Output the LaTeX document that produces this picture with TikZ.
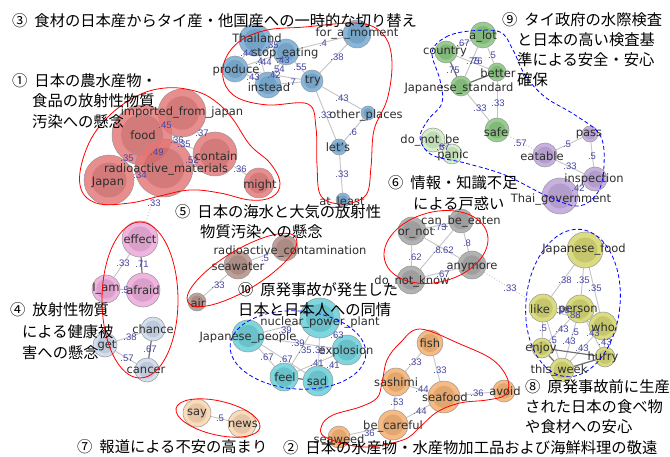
\documentclass[tikz,border=0pt]{standalone}
\usepackage{fontspec}
\setmainfont{DejaVu Sans}
\newfontfamily\jpf{Noto Sans CJK JP}
\newfontfamily\elf{Liberation Sans}
\usetikzlibrary{backgrounds}
\definecolor{cRed}{RGB}{228,118,118}
\definecolor{cBlue}{RGB}{112,168,212}
\definecolor{cGreen}{RGB}{128,196,118}
\definecolor{cLGreen}{RGB}{206,236,192}
\definecolor{cPurple}{RGB}{188,160,218}
\definecolor{cGray}{RGB}{162,162,162}
\definecolor{cYellow}{RGB}{212,212,100}
\definecolor{cCyan}{RGB}{98,206,216}
\definecolor{cPink}{RGB}{236,164,216}
\definecolor{cLBlue}{RGB}{202,216,236}
\definecolor{cBrown}{RGB}{178,140,130}
\definecolor{cOrange}{RGB}{246,172,104}
\definecolor{cLOrange}{RGB}{250,212,172}
\definecolor{bordc}{RGB}{150,150,150}
\definecolor{txtc}{RGB}{45,45,45}
\definecolor{elc}{RGB}{70,70,165}
\definecolor{edgc}{RGB}{196,196,196}
\definecolor{sedgc}{RGB}{110,110,110}
\begin{document}
\begin{tikzpicture}[x=1pt,y=-1pt,
  vn/.style n args={2}{circle, draw=bordc, line width=.5pt, fill=#2, fill opacity=.82,
     minimum size=#1*2pt, inner sep=0pt,
     path picture={\fill[#2!78!black, fill opacity=.38] (path picture bounding box.center) circle[radius=#1*0.7pt];}},
  lab/.style={font=\fontsize{11.5}{13}\selectfont, text=txtc, inner sep=0pt},
  elab/.style={font=\elf\fontsize{9.5}{11}\selectfont, text=elc, inner sep=0pt},
  ttl/.style={font=\jpf\fontsize{15.3}{18}\selectfont, anchor=west, inner sep=0pt, text=black},
  edge/.style={draw=edgc, line width=.9pt},
  sedge/.style={draw=sedgc, line width=1.2pt},
  dedge/.style={draw=edgc, line width=.9pt, dotted},
  redline/.style={draw=red, line width=.8pt},
  blueline/.style={draw=blue, line width=.8pt, dash pattern=on 4pt off 2.5pt}]
\useasboundingbox (0,0) rectangle (670,457);

% ---- circles ----
\foreach \n/\x/\y/\rad/\cc in {
  imp/182/113/24/cRed, food/142/135/30/cRed, radm/164/168/29/cRed, japan/109/180/25/cRed,
  cont/215/154/22/cRed, might/259/183/15/cRed,
  thai/255/40/16/cBlue, stop/286/52/13/cBlue, prod/235/69/13/cBlue, inst/268/85/13/cBlue,
  try/312/81/11/cBlue, moment/357/34/14/cBlue, other/368/113/7/cBlue, lets/339/147/8/cBlue,
  atleast/343/200/7/cBlue,
  alot/483/35/13/cGreen, country/446/52/11/cGreen, better/497/72/9/cGreen, jstd/461/86/10/cGreen,
  safe/497/130/12/cGreen, donot/433/140/12/cLGreen, panic/452/154/10/cLGreen,
  eatable/545/155/12/cPurple, pass/590/134/8/cPurple, insp/595/179/12/cPurple, thaigov/560/196/18/cPurple,
  canbe/461/221/12/cGray, ornot/412/231/14/cGray, anymore/472/265/14/cGray, dnk/411/280/14/cGray,
  jfood/585/250/18/cYellow, like/543/308/14/cYellow, person/580/309/14/cYellow, who/603/326/14/cYellow,
  enjoy/542/348/10/cYellow, hurry/605/357/10/cYellow, week/562/370/12/cYellow,
  npp/320/318/20/cCyan, jpeople/248/336/16/cCyan, expl/347/350/15/cCyan, feel/284/377/14/cCyan,
  sad/318/381/15/cCyan,
  effect/140/239/18/cPink, iam/106/289/14/cPink, afraid/143/290/17/cPink,
  chance/153/329/12/cLBlue, get/105/345/12/cLBlue, cancer/147/370/12/cLBlue,
  air/197/302/9/cBrown, seawater/238/265/14/cBrown, radcont/285/248/13/cBrown,
  fish/430/343/13/cOrange, sashimi/396/382/14/cOrange, seafood/444/397/16/cOrange,
  avoid/504/391/11/cOrange, careful/393/425/15/cOrange, seaweed/339/437/11/cOrange,
  say/197/413/14/cLOrange, news/242/424/14/cLOrange}
  \node[vn={\rad}{\cc}] (\n) at (\x,\y) {};

% ---- edges ----
\begin{scope}[on background layer]
\fill[white] (0,0) rectangle (670,457);
\foreach \a/\b in {imp/food, imp/cont, food/cont, imp/radm, food/radm, food/japan, radm/japan,
  radm/cont, cont/might,
  thai/stop, thai/prod, thai/inst, prod/stop, prod/inst, stop/inst, stop/try, inst/try, try/moment,
  stop/moment, try/other, try/lets, other/lets, lets/atleast, prod/try,
  country/alot, alot/better, alot/jstd, country/better, jstd/safe, better/safe, donot/panic,
  eatable/pass, pass/insp, eatable/insp, insp/thaigov,
  ornot/canbe, canbe/anymore, ornot/dnk, ornot/anymore, canbe/dnk, dnk/anymore,
  jfood/like, jfood/person, jfood/who, like/person, like/who, like/enjoy, like/week, person/week,
  person/hurry, person/enjoy, who/week, who/hurry,
  jpeople/npp, npp/expl, jpeople/expl, jpeople/sad, npp/sad, feel/expl, sad/expl, jpeople/feel, npp/feel,
  effect/iam, iam/afraid, get/chance, get/cancer,
  air/seawater, seawater/radcont,
  fish/sashimi, fish/seafood, sashimi/seafood, seafood/avoid, sashimi/careful, careful/seafood,
  careful/seaweed, say/news}
  \draw[edge] (\a) -- (\b);
\foreach \a/\b in {country/jstd, jstd/better, enjoy/hurry, enjoy/week, week/hurry, feel/sad,
  effect/afraid, chance/cancer}
  \draw[sedge] (\a) -- (\b);
\foreach \a/\b in {safe/eatable, anymore/like, radm/effect}
  \draw[dedge] (\a) -- (\b);
\end{scope}

% ---- node labels ----
\foreach \n/\x/\y/\t in {
  imp/182/112/imported\_from\_japan, food/143/135/food, radm/166/169/radioactive\_materials,
  japan/108/183/Japan, cont/216/156/contain, might/260/185/might,
  thai/257/38/Thailand, stop/285/53/stop\_eating, prod/236/70/produce, inst/269/87/instead,
  try/313/81/try, moment/357/33/for\_a\_moment, other/366/115/other\_places, lets/338/147/let's,
  atleast/342/202/at\_least,
  alot/483/36/a\_lot, country/445/52/country, better/498/73/better, jstd/459/88/Japanese\_standard,
  safe/496/132/safe, donot/430/140/do\_not\_be, panic/453/155/panic,
  eatable/542/156/eatable, pass/589/134/pass, insp/594/179/inspection, thaigov/561/199/Thai\_government,
  canbe/461/221/can\_be\_eaten, ornot/416/233/or\_not, anymore/472/267/anymore, dnk/412/281/do\_not\_know,
  jfood/584/249/Japanese\_food, like/540/309/like, person/578/310/person, who/603/327/who,
  enjoy/541/348/enjoy, hurry/603/357/hurry, week/559/370/this\_week,
  npp/320/322/nuclear\_power\_plant, jpeople/248/337/Japanese\_people, expl/346/351/explosion,
  feel/285/377/feel, sad/317/381/sad,
  effect/140/239/effect, iam/106/289/I\_am, afraid/143/290/afraid,
  chance/153/329/chance, get/107/346/get, cancer/146/370/cancer,
  air/198/303/air, seawater/238/267/seawater, radcont/290/251/radioactive\_contamination,
  fish/430/343/fish, sashimi/396/382/sashimi, seafood/445/397/seafood, avoid/505/391/avoid,
  careful/393/426/be\_careful, seaweed/339/439/seaweed,
  say/197/413/say, news/243/424/news}
  \node[lab] (t-\n) at (\x,\y) {\t};

% ---- edge labels ----
\foreach \n/\x/\y/\t in {
  1/165/125/.45, 2/202/133/.37, 3/177/140/.36, 4/184/144/.35, 5/157/152/.49, 6/127/158/.35,
  7/192/160/.52, 8/140/175/.34, 9/240/169/.36, 10/154/203/.33,
  11/272/45/.35, 12/247/53/.44, 13/259/61/.4, 14/265/62/.44, 15/283/60/.43, 16/300/67/.55,
  17/278/69/.54, 18/274/75/.42, 19/253/77/.43, 20/292/82/.7, 21/323/43/.4, 22/337/57/.38,
  23/342/98/.43, 24/325/115/.33, 25/353/132/.6, 26/342/174/.33,
  27/463/43/.67, 28/473/61/.75, 29/476/61/.76, 30/492/55/.5, 31/453/70/.75, 32/480/108/.33,
  33/498/103/.33, 34/443/147/.67, 35/520/143/.57, 36/567/144/.5, 37/592/156/.5, 38/570/166/.33,
  39/578/188/.42,
  40/440/227/.73, 41/467/243/.8, 42/415/257/.62, 43/437/250/.8, 44/447/250/.62, 45/443/274/.67,
  46/510/288/.33,
  47/565/280/.38, 48/583/280/.35, 49/595/288/.35, 50/563/310/.98, 51/574/315/.88, 52/543/328/.5,
  53/562/329/.43, 54/575/332/.5, 55/593/333/.43, 56/553/340/.5, 57/569/341/.43, 58/605/342/.43,
  59/582/348/.43,
  60/285/330/.39, 61/337/335/.63, 62/298/343/.39, 63/305/350/.35, 64/319/350/.35, 65/317/363/.41,
  66/333/365/.41, 67/267/357/.67, 68/286/359/.67,
  69/123/263/.33, 70/142/264/.71, 71/125/290/.5, 72/130/337/.38, 73/150/349/.67, 74/127/358/.57,
  75/265/258/.5, 76/218/285/.33,
  77/415/362/.33, 78/440/370/.33, 79/422/389/.44, 80/477/393/.36, 81/397/402/.53, 82/420/411/.44,
  83/368/433/.36, 84/220/418/.5}
  \node[elab] (e\n) at (\x,\y) {\t};

% ---- group outlines ----
\draw[redline] plot[smooth cycle, tension=.65] coordinates {(80,185) (86,150) (105,120) (135,97)
  (165,88) (195,91) (215,101) (232,118) (250,145) (270,163) (280,183) (272,197) (250,200)
  (220,193) (190,190) (160,196) (130,203) (96,203)};
\draw[redline] plot[smooth cycle, tension=.6] coordinates {(225,60) (240,41) (267,30) (305,27)
  (350,23) (374,27) (388,42) (392,67) (387,100) (374,130) (371,167) (366,195) (343,204) (321,196)
  (317,165) (316,128) (308,104) (268,105) (238,98) (224,82)};
\draw[blueline] plot[smooth cycle, tension=.6] coordinates {(432,52) (446,37) (470,31) (500,32)
  (513,50) (525,75) (545,97) (575,115) (600,135) (604,165) (598,192) (578,206) (545,195)
  (505,175) (465,163) (432,155) (420,138) (428,120) (442,103) (440,80)};
\draw[redline] plot[smooth cycle, tension=.6] coordinates {(400,343) (420,329) (460,344) (493,360)
  (508,380) (505,395) (487,400) (460,403) (437,412) (420,427) (403,440) (363,447) (325,437)
  (322,425) (333,415) (360,407) (377,398) (382,383) (387,360)};
\draw[redline] (436,247) ellipse[x radius=53, y radius=35, rotate=15];
\draw[redline] (140,300) ellipse[x radius=38, y radius=78];
\draw[redline] (242,270) ellipse[x radius=63, y radius=20, rotate=31];
\draw[redline] (218,418) ellipse[x radius=43, y radius=17, rotate=-13];
\draw[blueline] (298,350) ellipse[x radius=68, y radius=39, rotate=-4];
\draw[blueline] (573,303) ellipse[x radius=47, y radius=74, rotate=-6];

% ---- titles ----
\node[ttl] (h3) at (12,21) {③\hspace{7pt}食材の日本産からタイ産・他国産への一時的な切り替え};
\node[ttl] (h1a) at (12,81) {①\hspace{7pt}日本の農水産物・};
\node[ttl] (h1b) at (32,101) {食品の放射性物質};
\node[ttl] (h1c) at (32,122) {汚染への懸念};
\node[ttl] (h9a) at (502,20) {⑨\hspace{7pt}タイ政府の水際検査};
\node[ttl] (h9b) at (517,40) {と日本の高い検査基};
\node[ttl] (h9c) at (517,60) {準による安全・安心};
\node[ttl] (h9d) at (517,80) {確保};
\node[ttl] (h6a) at (388,183) {⑥\hspace{7pt}情報・知識不足};
\node[ttl] (h6b) at (413,204) {による戸惑い};
\node[ttl] (h5a) at (175,212) {⑤\hspace{7pt}日本の海水と大気の放射性};
\node[ttl] (h5b) at (200,232) {物質汚染への懸念};
\node[ttl] (h10a) at (238,290) {⑩\hspace{7pt}原発事故が発生した};
\node[ttl] (h10b) at (238,310) {日本と日本人への同情};
\node[ttl] (h4a) at (10,310) {④\hspace{7pt}放射性物質};
\node[ttl] (h4b) at (22,332) {による健康被};
\node[ttl] (h4c) at (22,353) {害への懸念};
\node[ttl] (h8a) at (525,387) {⑧\hspace{7pt}原発事故前に生産};
\node[ttl] (h8b) at (525,407) {された日本の食べ物};
\node[ttl] (h8c) at (525,427) {や食材への安心};
\node[ttl] (h7) at (77,447) {⑦\hspace{7pt}報道による不安の高まり};
\node[ttl] (h2) at (283,448) {②\hspace{7pt}日本の水産物・水産物加工品および海鮮料理の敬遠};
\end{tikzpicture}
\end{document}
